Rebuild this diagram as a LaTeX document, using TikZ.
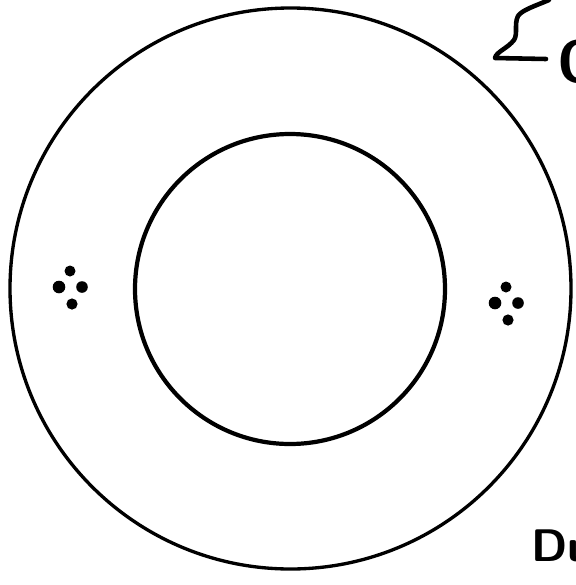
\documentclass[tikz,border=0pt]{standalone}
\usetikzlibrary{calc}
\tikzset{
    outer ring/.style={
        draw=black,
        line width=1.9pt
    },
    inner ring/.style={
        draw=black,
        line width=2.4pt
    },
    speck/.style={
        fill=black
    },
    scrawl/.style={
        draw=black,
        line width=2.6pt,
        line cap=round,
        line join=round
    },
    edge label/.style={
        font=\sffamily\bfseries\fontsize{26}{26}\selectfont,
        inner sep=0pt
    },
    big label/.style={
        font=\sffamily\bfseries\fontsize{34}{34}\selectfont,
        inner sep=0pt
    }
}
\newcommand{\drawspecks}[2]{%
    \fill[speck] ({#1-1},{#2-16}) circle (5.5);
    \fill[speck] ({#1-12},#2) circle (6.3);
    \fill[speck] ({#1+11},#2) circle (5.8);
    \fill[speck] ({#1+1},{#2+17}) circle (5.6);
}

\begin{document}
\begin{tikzpicture}[x=0.02cm, y=-0.02cm]

    \useasboundingbox (0,0) rectangle (575,585);

    % -------------------------------------------------------------------------
    % Rings.
    % -------------------------------------------------------------------------
    \draw[outer ring] (290.5,288.5) circle (280.5);
    \draw[inner ring] (290,289) circle (155);

    % Specks on both sides of the hub.
    \drawspecks{71}{287}
    \drawspecks{507}{303}

    % -------------------------------------------------------------------------
    % Cut-off writing at the right edge.
    % -------------------------------------------------------------------------
    \draw[scrawl] (549,0) .. controls (535,6) and (522,10) .. (518,16)
        .. controls (514,24) and (518,34) .. (514,40)
        .. controls (508,48) and (496,52) .. (495,58)
        -- (546,59);
    \node[big label, anchor=base west] (lead) at (557,82) {O};

    \node[edge label, anchor=base west] (foot) at (531,561) {Du};

\end{tikzpicture}
\end{document}
